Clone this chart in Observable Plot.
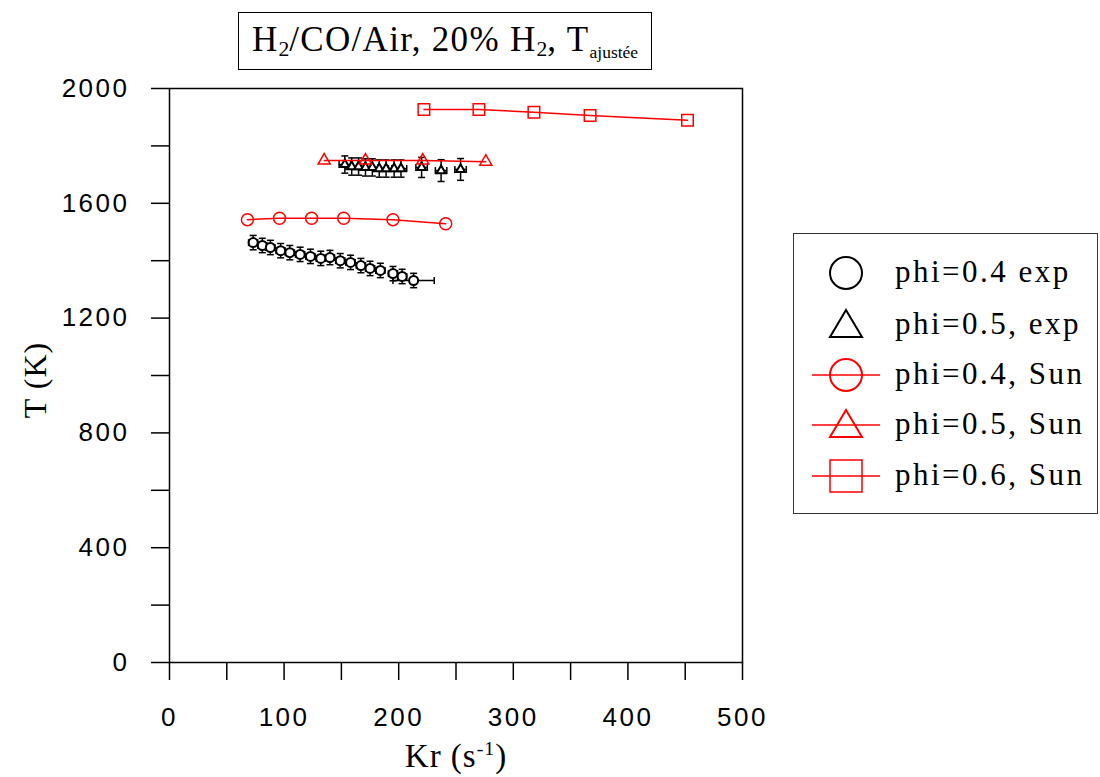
<!DOCTYPE html>
<html>
<head>
<meta charset="utf-8">
<script src="https://cdn.jsdelivr.net/npm/d3@7"></script>
<script src="https://cdn.jsdelivr.net/npm/@observablehq/plot@0.6"></script>
<style>
  html, body { margin: 0; padding: 0; background: #fff; }
  #wrap { position: relative; width: 1100px; height: 777px; overflow: hidden; }
  #chart { position: absolute; left: 0; top: 0; }
  .serif { font-family: "Liberation Serif", "Times New Roman", serif; color: #000; }
  #title { position: absolute; left: 238px; top: 12px; width: 414px; height: 58px; box-sizing: border-box;
           border: 1.5px solid #000; font-size: 35px; letter-spacing: 1.3px; text-align: center; line-height: 54px; white-space: nowrap; }
  #title sub { font-size: 0.62em; vertical-align: -0.25em; line-height: 0; letter-spacing: 0; }
  #title sub.small { font-size: 0.5em; vertical-align: -0.4em; }
  #legend { position: absolute; left: 793px; top: 233px; width: 305px; height: 281px; box-sizing: border-box; border: 1.5px solid #333; }
  .row { position: absolute; left: 0; height: 40px; width: 300px; }
  .row svg { position: absolute; left: 14px; top: 0; }
  .row span { position: absolute; left: 101px; top: -1px; line-height: 40px; font-size: 31px; letter-spacing: 2.5px; white-space: nowrap; }
  #xlabel { position: absolute; left: 306px; width: 300px; top: 738px; text-align: center; font-size: 33px; letter-spacing: 1px; white-space: nowrap; }
  #xlabel sup { font-size: 0.6em; vertical-align: 0.6em; line-height: 0; }
  #ylabel { position: absolute; left: 35px; top: 380px; transform: translate(-50%, -50%) rotate(-90deg); font-size: 32px; letter-spacing: 1px; white-space: nowrap; }
</style>
</head>
<body>
<div id="wrap">
  <div id="chart"></div>
  <div id="title" class="serif">H<sub>2</sub>/CO/Air, 20% H<sub>2</sub>, T<sub class="small">ajustée</sub></div>
  <div id="legend" class="serif"></div>
  <div id="xlabel" class="serif">Kr (s<sup>-1</sup>)</div>
  <div id="ylabel" class="serif">T (K)</div>
</div>
<script>
// ---- Data ----
// phi=0.4, exp (black circles, with error bars)
const exp04K    = [73, 81, 88, 97, 105, 114, 123, 132, 140, 149, 158, 167, 175, 184, 195, 203, 213];
const exp04T    = [1463, 1453, 1446, 1435, 1428, 1422, 1415, 1408, 1411, 1400, 1394, 1383, 1373, 1366, 1355, 1345, 1331];
const exp04ErrT = [25, 25, 25, 25, 25, 25, 25, 25, 25, 25, 25, 25, 25, 25, 25, 25, 25];
const exp04ErrK = [4, 4, 4, 4, 4, 4, 4, 4, 4, 4, 4, 4, 4, 4, 4, 4, 18];
// phi=0.5, exp (black triangles, with error bars)
const exp05K    = [153, 159, 165, 171, 177, 183, 189, 196, 202, 220, 237, 254];
const exp05T    = [1735, 1728, 1728, 1725, 1725, 1721, 1721, 1721, 1721, 1725, 1714, 1718];
const exp05ErrT = [30, 30, 30, 30, 30, 30, 30, 30, 30, 35, 38, 38];
const exp05ErrK = [5, 5, 5, 5, 5, 5, 5, 5, 5, 5, 5, 5];
// phi=0.4, Sun (red circles)
const sun04K = [68, 96, 124, 152, 195, 241];
const sun04T = [1543, 1548, 1548, 1548, 1543, 1529];
// phi=0.5, Sun (red triangles)
const sun05K = [135, 171, 221, 276];
const sun05T = [1749, 1749, 1749, 1745];
// phi=0.6, Sun (red squares)
const sun06K = [222, 270, 318, 367, 452];
const sun06T = [1927, 1927, 1917, 1906, 1889];

const xTicks = [0, 100, 200, 300, 400, 500];
const xMinor = [50, 150, 250, 350, 450];
const yTicks = [0, 400, 800, 1200, 1600, 2000];
const yMinor = [200, 600, 1000, 1400, 1800];

const legendLabels = ["phi=0.4 exp", "phi=0.5, exp", "phi=0.4, Sun", "phi=0.5, Sun", "phi=0.6, Sun"];

// ---- Build tables ----
const zip = (K, T, eT, eK) => K.map((k, i) => ({k, t: T[i], et: eT ? eT[i] : 0, ek: eK ? eK[i] : 0}));
const exp04 = zip(exp04K, exp04T, exp04ErrT, exp04ErrK);
const exp05 = zip(exp05K, exp05T, exp05ErrT, exp05ErrK);
const sun04 = zip(sun04K, sun04T);
const sun05 = zip(sun05K, sun05T);
const sun06 = zip(sun06K, sun06T);

const capH = {draw(ctx) { ctx.moveTo(-3.5, 0); ctx.lineTo(3.5, 0); }};
const capV = {draw(ctx) { ctx.moveTo(0, -3.5); ctx.lineTo(0, 3.5); }};

function errorMarks(data) {
  return [
    Plot.ruleX(data, {x: "k", y1: d => d.t - d.et, y2: d => d.t + d.et, stroke: "#000", strokeWidth: 1.5}),
    Plot.ruleY(data, {y: "t", x1: d => d.k - d.ek, x2: d => d.k + d.ek, stroke: "#000", strokeWidth: 1.5}),
    Plot.dot(data, {x: "k", y: d => d.t + d.et, symbol: capH, r: 3, stroke: "#000", strokeWidth: 1.5, fill: "none"}),
    Plot.dot(data, {x: "k", y: d => d.t - d.et, symbol: capH, r: 3, stroke: "#000", strokeWidth: 1.5, fill: "none"}),
    Plot.dot(data, {x: d => d.k + d.ek, y: "t", symbol: capV, r: 3, stroke: "#000", strokeWidth: 1.5, fill: "none"}),
    Plot.dot(data, {x: d => d.k - d.ek, y: "t", symbol: capV, r: 3, stroke: "#000", strokeWidth: 1.5, fill: "none"})
  ];
}

const red = "#ff0000";
const fmt = d => String(d);
const chart = Plot.plot({
  width: 1100,
  height: 777,
  marginLeft: 169,
  marginRight: 358,
  marginTop: 88,
  marginBottom: 115,
  x: {domain: [0, 500]},
  y: {domain: [0, 2000]},
  style: {fontFamily: "'Liberation Sans', Arial, sans-serif", fontSize: "26px", letterSpacing: "2.5px", color: "#000", background: "transparent", overflow: "visible"},
  marks: [
    Plot.axisX({ticks: xTicks, tickSize: 18, tickPadding: 27, tickFormat: fmt, label: null, stroke: "#000", strokeWidth: 1.5, strokeOpacity: 1}),
    Plot.axisX({ticks: xMinor, tickSize: 18, tickFormat: () => "", label: null, stroke: "#000", strokeWidth: 1.5, strokeOpacity: 1}),
    Plot.axisY({ticks: yTicks, tickSize: 18, tickPadding: 22, tickFormat: fmt, label: null, stroke: "#000", strokeWidth: 1.5, strokeOpacity: 1}),
    Plot.axisY({ticks: yMinor, tickSize: 18, tickFormat: () => "", label: null, stroke: "#000", strokeWidth: 1.5, strokeOpacity: 1}),
    Plot.frame({stroke: "#000", strokeWidth: 1.5}),
    ...errorMarks(exp04),
    ...errorMarks(exp05),
    Plot.dot(exp04, {x: "k", y: "t", r: 4.5, symbol: "circle", stroke: "#000", strokeWidth: 2, fill: "#fff"}),
    Plot.dot(exp05, {x: "k", y: "t", r: 3.3, symbol: "triangle", stroke: "#000", strokeWidth: 2, fill: "#fff"}),
    Plot.line(sun04, {x: "k", y: "t", stroke: red, strokeWidth: 1.5}),
    Plot.line(sun05, {x: "k", y: "t", stroke: red, strokeWidth: 1.5}),
    Plot.line(sun06, {x: "k", y: "t", stroke: red, strokeWidth: 1.5}),
    Plot.dot(sun04, {x: "k", y: "t", r: 6, symbol: "circle", stroke: red, strokeWidth: 1.5, fill: "none"}),
    Plot.dot(sun05, {x: "k", y: "t", r: 4.5, symbol: "triangle", stroke: red, strokeWidth: 1.5, fill: "none"}),
    Plot.dot(sun06, {x: "k", y: "t", r: 6.5, symbol: "square", stroke: red, strokeWidth: 1.5, fill: "none"})
  ]
});
document.getElementById("chart").appendChild(chart);

// ---- Legend ----
const legendSymbols = [
  {shape: "circle", color: "#000", line: false},
  {shape: "triangle", color: "#000", line: false},
  {shape: "circle", color: red, line: true},
  {shape: "triangle", color: red, line: true},
  {shape: "square", color: red, line: true}
];
const rowTops = [19, 71, 121, 171, 222];
const legend = document.getElementById("legend");
legendLabels.forEach((lab, i) => {
  const s = legendSymbols[i];
  const row = document.createElement("div");
  row.className = "row";
  row.style.top = rowTops[i] + "px";
  let shape = "";
  const cx = 38, cy = 20;
  if (s.shape === "circle") shape = `<circle cx="${cx}" cy="${cy}" r="16" fill="none" stroke="${s.color}" stroke-width="2"/>`;
  if (s.shape === "triangle") shape = `<polygon points="${cx},${cy - 15} ${cx + 16},${cy + 12} ${cx - 16},${cy + 12}" fill="none" stroke="${s.color}" stroke-width="2"/>`;
  if (s.shape === "square") shape = `<rect x="${cx - 16}" y="${cy - 16}" width="32" height="32" fill="none" stroke="${s.color}" stroke-width="1.5"/>`;
  const line = s.line ? `<line x1="4" x2="72" y1="${cy}" y2="${cy}" stroke="${s.color}" stroke-width="1.5"/>` : "";
  row.innerHTML = `<svg width="80" height="40">${line}${shape}</svg><span>${lab}</span>`;
  legend.appendChild(row);
});
</script>
</body>
</html>
